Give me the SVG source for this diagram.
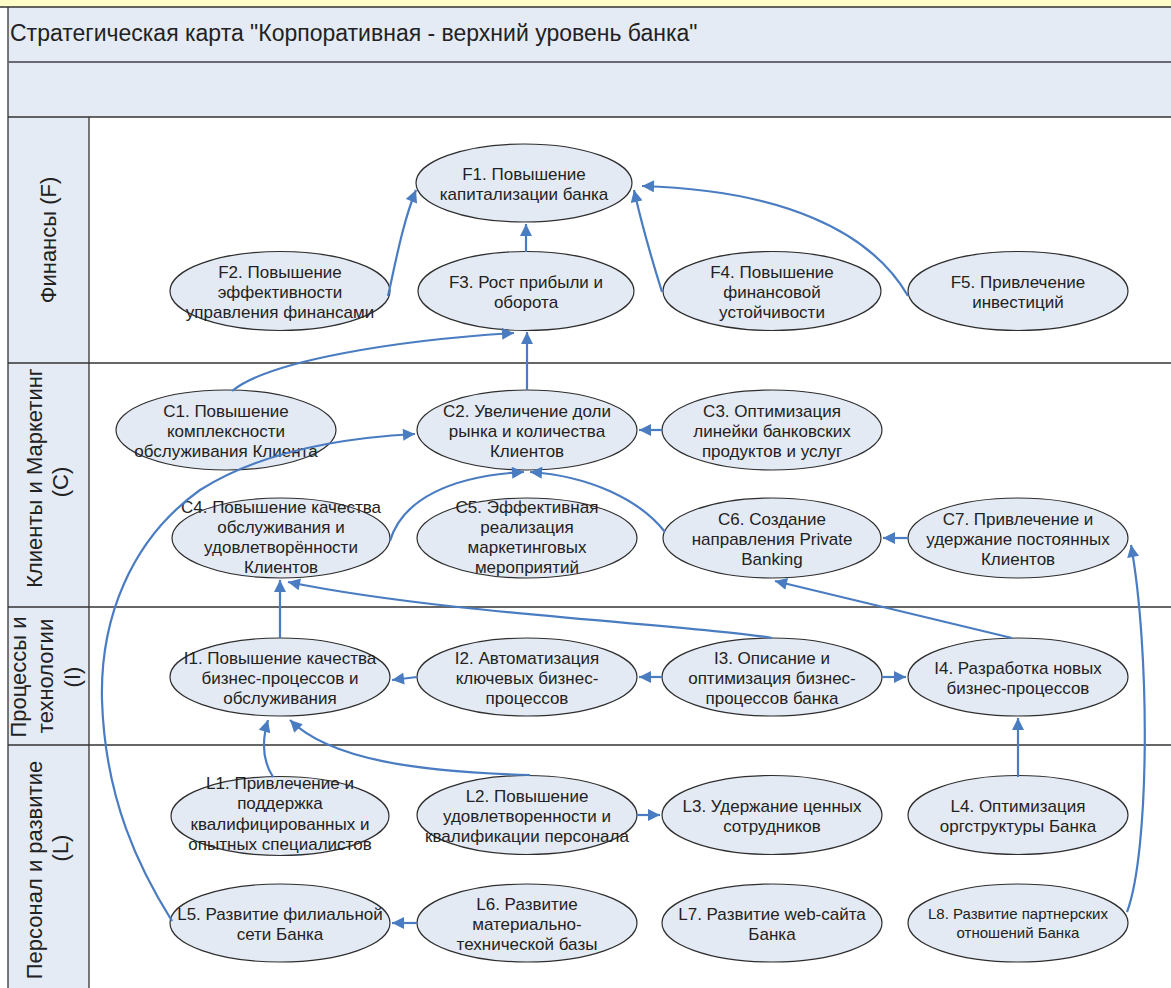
<svg xmlns="http://www.w3.org/2000/svg" width="1171" height="988" viewBox="0 0 1171 988">
<style>
.bg{fill:#e5ebf5}
.ln{stroke:#333;stroke-width:1.3;fill:none}
.n ellipse{fill:#e4eaf4;stroke:#2e2e2e;stroke-width:1.2}
.n text{font-family:"Liberation Sans",Arial,sans-serif;font-size:17px;fill:#222;text-anchor:middle}
.lane{font-family:"Liberation Sans",Arial,sans-serif;font-size:22px;fill:#222;text-anchor:middle}
.title{font-family:"Liberation Sans",Arial,sans-serif;font-size:23px;fill:#222}
.c path{fill:none;stroke:#4a7cc2;stroke-width:2.2;marker-end:url(#ah)}
</style>
<defs>
<marker id="ah" viewBox="0 0 10 10" refX="10" refY="5" markerUnits="userSpaceOnUse" markerWidth="14" markerHeight="12" orient="auto">
<path d="M0,0 L10,5 L0,10 z" fill="#4a7cc2"/>
</marker>
</defs>
<rect x="0" y="0" width="1171" height="988" fill="#ffffff"/>
<rect x="0" y="0" width="1171" height="7" fill="#fffcc8"/>
<rect class="bg" x="8" y="7" width="1163" height="110"/>
<rect class="bg" x="8" y="117" width="81" height="871"/>
<g id="frame">
<line class="ln" x1="0" y1="7" x2="1171" y2="7" stroke-width="2"/>
<line class="ln" x1="8" y1="7" x2="8" y2="988"/>
<line x1="8" y1="62" x2="1171" y2="62" stroke="#6a6a72" stroke-width="2"/>
<line class="ln" x1="8" y1="117" x2="1171" y2="117"/>
<line class="ln" x1="89" y1="117" x2="89" y2="988"/>
<line class="ln" x1="8" y1="363" x2="1171" y2="363"/>
<line class="ln" x1="8" y1="607" x2="1171" y2="607"/>
<line class="ln" x1="8" y1="745" x2="1171" y2="745"/>
</g>
<text class="title" x="10" y="41">Стратегическая карта "Корпоративная - верхний уровень банка"</text>
<g id="lanes">
<text class="lane" transform="translate(56,240) rotate(-90)">Финансы (F)</text>
<text class="lane" transform="translate(42,478) rotate(-90)">Клиенты и Маркетинг</text>
<text class="lane" transform="translate(68,482) rotate(-90)">(C)</text>
<text class="lane" transform="translate(26,677) rotate(-90)">Процессы и</text>
<text class="lane" transform="translate(53,676) rotate(-90)">технологии</text>
<text class="lane" transform="translate(80,677) rotate(-90)">(I)</text>
<text class="lane" transform="translate(42,870) rotate(-90)">Персонал и развитие</text>
<text class="lane" transform="translate(68,848) rotate(-90)">(L)</text>
</g>
<g id="F1" class="n"><ellipse cx="524" cy="183" rx="108" ry="39"/><text x="524" y="180">F1. Повышение</text><text x="524" y="200">капитализации банка</text></g>
<g id="F2" class="n"><ellipse cx="280" cy="291" rx="110" ry="39.5"/><text x="280" y="278">F2. Повышение</text><text x="280" y="298">эффективности</text><text x="280" y="318">управления финансами</text></g>
<g id="F3" class="n"><ellipse cx="526" cy="291" rx="108" ry="39.5"/><text x="526" y="288">F3. Рост прибыли и</text><text x="526" y="308">оборота</text></g>
<g id="F4" class="n"><ellipse cx="772" cy="291" rx="109" ry="39.5"/><text x="772" y="278">F4. Повышение</text><text x="772" y="298">финансовой</text><text x="772" y="318">устойчивости</text></g>
<g id="F5" class="n"><ellipse cx="1018" cy="291" rx="110" ry="39.5"/><text x="1018" y="288">F5. Привлечение</text><text x="1018" y="308">инвестиций</text></g>
<g id="C1" class="n"><ellipse cx="226" cy="430" rx="110" ry="40"/><text x="226" y="417">C1. Повышение</text><text x="226" y="437">комплексности</text><text x="226" y="457">обслуживания Клиента</text></g>
<g id="C2" class="n"><ellipse cx="527" cy="430" rx="110" ry="40"/><text x="527" y="417">C2. Увеличение доли</text><text x="527" y="437">рынка и количества</text><text x="527" y="457">Клиентов</text></g>
<g id="C3" class="n"><ellipse cx="772" cy="430" rx="110" ry="40"/><text x="772" y="417">C3. Оптимизация</text><text x="772" y="437">линейки банковских</text><text x="772" y="457">продуктов и услуг</text></g>
<g id="C4" class="n"><ellipse cx="281" cy="538" rx="109" ry="40"/><text x="281" y="513">C4. Повышение качества</text><text x="281" y="533">обслуживания и</text><text x="281" y="553">удовлетворённости</text><text x="281" y="573">Клиентов</text></g>
<g id="C5" class="n"><ellipse cx="527" cy="538" rx="110" ry="40"/><text x="527" y="513">C5. Эффективная</text><text x="527" y="533">реализация</text><text x="527" y="553">маркетинговых</text><text x="527" y="573">мероприятий</text></g>
<g id="C6" class="n"><ellipse cx="772" cy="538" rx="109" ry="40"/><text x="772" y="525">C6. Создание</text><text x="772" y="545">направления Private</text><text x="772" y="565">Banking</text></g>
<g id="C7" class="n"><ellipse cx="1018" cy="538" rx="110" ry="40"/><text x="1018" y="525">C7. Привлечение и</text><text x="1018" y="545">удержание постоянных</text><text x="1018" y="565">Клиентов</text></g>
<g id="I1" class="n"><ellipse cx="280" cy="677" rx="110" ry="39"/><text x="280" y="664">I1. Повышение качества</text><text x="280" y="684">бизнес-процессов и</text><text x="280" y="704">обслуживания</text></g>
<g id="I2" class="n"><ellipse cx="527" cy="677" rx="110" ry="39"/><text x="527" y="664">I2. Автоматизация</text><text x="527" y="684">ключевых бизнес-</text><text x="527" y="704">процессов</text></g>
<g id="I3" class="n"><ellipse cx="772" cy="677" rx="110" ry="39"/><text x="772" y="664">I3. Описание и</text><text x="772" y="684">оптимизация бизнес-</text><text x="772" y="704">процессов банка</text></g>
<g id="I4" class="n"><ellipse cx="1018" cy="677" rx="110" ry="39"/><text x="1018" y="674">I4. Разработка новых</text><text x="1018" y="694">бизнес-процессов</text></g>
<g id="L1" class="n"><ellipse cx="280" cy="816" rx="109" ry="39.5"/><text x="280" y="789">L1. Привлечение и</text><text x="280" y="809">поддержка</text><text x="280" y="830">квалифицированных и</text><text x="280" y="850">опытных специалистов</text></g>
<g id="L2" class="n"><ellipse cx="527" cy="815" rx="110" ry="39.5"/><text x="527" y="802">L2. Повышение</text><text x="527" y="822">удовлетворенности и</text><text x="527" y="842">квалификации персонала</text></g>
<g id="L3" class="n"><ellipse cx="772" cy="815" rx="110" ry="39.5"/><text x="772" y="812">L3. Удержание ценных</text><text x="772" y="832">сотрудников</text></g>
<g id="L4" class="n"><ellipse cx="1018" cy="815" rx="110" ry="39.5"/><text x="1018" y="812">L4. Оптимизация</text><text x="1018" y="832">оргструктуры Банка</text></g>
<g id="L5" class="n"><ellipse cx="280" cy="923" rx="110" ry="39"/><text x="280" y="920">L5. Развитие филиальной</text><text x="280" y="940">сети Банка</text></g>
<g id="L6" class="n"><ellipse cx="527" cy="923" rx="110" ry="39"/><text x="527" y="910">L6. Развитие</text><text x="527" y="930">материально-</text><text x="527" y="950">технической базы</text></g>
<g id="L7" class="n"><ellipse cx="772" cy="923" rx="110" ry="39"/><text x="772" y="920">L7. Развитие web-сайта</text><text x="772" y="940">Банка</text></g>
<g id="L8" class="n"><ellipse cx="1018" cy="923" rx="110" ry="39"/><text x="1018" y="919" style="font-size:15px">L8. Развитие партнерских</text><text x="1018" y="938" style="font-size:15px">отношений Банка</text></g>
<g id="connectors" class="c">
<path d="M388,296 C396,260 403,222 416,190"/>
<path d="M526,252 L526,224"/>
<path d="M662,292 C652,260 642,226 634,190"/>
<path d="M908,296 C870,230 780,190 642,186"/>
<path d="M232,391 C270,360 400,340 514,333"/>
<path d="M527,390 L527,332"/>
<path d="M662,430 L639,430"/>
<path d="M172,921 C140,870 105,800 102,700 C100,620 130,540 200,490 C260,452 340,438 415,434"/>
<path d="M390,541 C402,500 450,476 524,472"/>
<path d="M665,532 C640,500 590,476 530,472"/>
<path d="M280,638 L280,580"/>
<path d="M772,638 C700,625 450,615 288,582"/>
<path d="M1012,638 L775,581"/>
<path d="M908,538 L883,538"/>
<path d="M417,677 L392,680"/>
<path d="M662,677 L639,677"/>
<path d="M882,677 L906,677"/>
<path d="M273,777 C262,760 262,740 268,720"/>
<path d="M530,775 C420,772 330,760 290,720"/>
<path d="M637,815 L660,815"/>
<path d="M1018,777 L1018,718"/>
<path d="M417,923 L392,923"/>
<path d="M1127,912 C1150,850 1150,650 1131,545"/>
</g>
</svg>
